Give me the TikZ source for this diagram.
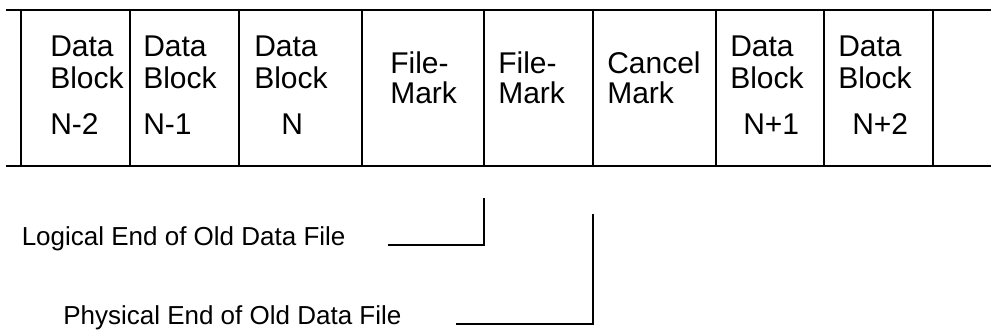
\documentclass[tikz,border=0pt]{standalone}
\usepackage{fontspec}
\setmainfont{Liberation Sans}
\tikzset{
  tape/.style={line width=1.5pt},
  conn/.style={line width=1.5pt},
  lbl/.style={anchor=base west, inner sep=0pt, font=\fontsize{22.5}{27}\selectfont},
  note/.style={anchor=base west, inner sep=0pt, font=\fontsize{19.5}{23}\selectfont},
}
\begin{document}
\begin{tikzpicture}[x=0.75pt,y=-0.75pt]
\useasboundingbox (0,0) rectangle (991,333);
% tape edges
\coordinate (tl) at (6,9.5);
\coordinate (tr) at (991,9.5);
\coordinate (bl) at (6,166);
\coordinate (br) at (991,166);
\draw[tape] (tl) -- (tr);
\draw[tape] (bl) -- (br);
\foreach \x in {21,130,239,362,484,593,716,824,933}
  \draw[tape] (\x,9.5) -- (\x,166);
% cell 1
\node[lbl] (c1a) at (50,56) {Data};
\node[lbl] (c1b) at (50,88) {Block};
\node[lbl] (c1c) at (50,134) {N-2};
% cell 2
\node[lbl] (c2a) at (143,56) {Data};
\node[lbl] (c2b) at (143,88) {Block};
\node[lbl] (c2c) at (143,134) {N-1};
% cell 3
\node[lbl] (c3a) at (254,56) {Data};
\node[lbl] (c3b) at (254,88) {Block};
\node[lbl] (c3c) at (281,134) {N};
% cell 4
\node[lbl] (c4a) at (390,73) {File-};
\node[lbl] (c4b) at (390,103.5) {Mark};
% cell 5
\node[lbl] (c5a) at (498,73) {File-};
\node[lbl] (c5b) at (498,103.5) {Mark};
% cell 6
\node[lbl] (c6a) at (607,73) {Cancel};
\node[lbl] (c6b) at (607,103.5) {Mark};
% cell 7
\node[lbl] (c7a) at (730,56) {Data};
\node[lbl] (c7b) at (730,88) {Block};
\node[lbl] (c7c) at (743,134) {N+1};
% cell 8
\node[lbl] (c8a) at (838,56) {Data};
\node[lbl] (c8b) at (838,88) {Block};
\node[lbl] (c8c) at (852,134) {N+2};
% notes
\node[note] (logical) at (21.5,245.5) {Logical End of Old Data File};
\node[note] (physical) at (63,324) {Physical End of Old Data File};
\coordinate (logS) at (387.5,245);
\coordinate (logE) at (483.5,197.5);
\coordinate (phyS) at (456,324);
\coordinate (phyE) at (592.5,213.5);
\draw[conn] (logS) -| (logE);
\draw[conn] (phyS) -| (phyE);
\end{tikzpicture}
\end{document}
